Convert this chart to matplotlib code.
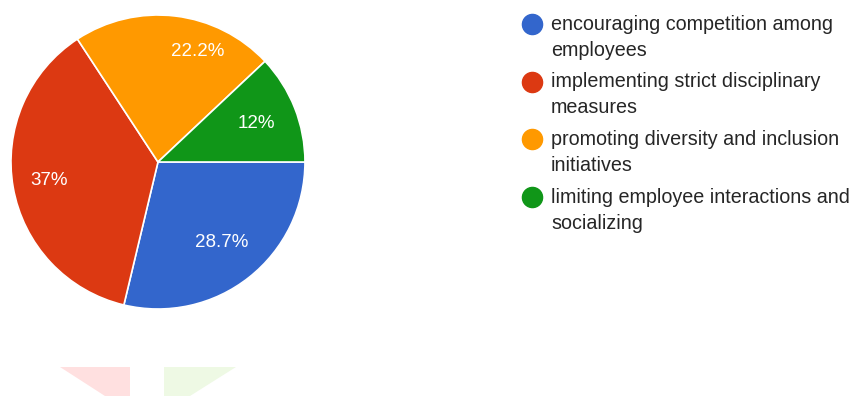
import numpy as np
import matplotlib
matplotlib.use("Agg")
import matplotlib.pyplot as plt
from matplotlib.patches import Polygon

labels = ["encouraging competition among\nemployees",
          "implementing strict disciplinary\nmeasures",
          "promoting diversity and inclusion\ninitiatives",
          "limiting employee interactions and\nsocializing"]
shares = [28.7, 37.0, 22.2, 12.0]
pct_text = ["28.7%", "37%", "22.2%", "12%"]
colors = ["#3366CC", "#DC3912", "#FF9900", "#109618"]

plt.rcParams['font.family'] = ['Liberation Sans', 'DejaVu Sans']

W, H = 850, 396
fig = plt.figure(figsize=(W / 100, H / 100), dpi=100)
ax = fig.add_axes([0.0129, 0.2197, 0.3459, 0.7424])
wedges, _ = ax.pie(shares, colors=colors, startangle=0, counterclock=False,
                   wedgeprops=dict(edgecolor="white", linewidth=1.2))
ax.set_aspect("equal")
ax.set_xlim(-1, 1)
ax.set_ylim(-1, 1)

# label radius / angle tweaks, roughly where the original puts them
lab_r = [0.70, 0.75, 0.80, 0.72]
lab_shift = [0, 0, -13, 0]
for w, t, r, s in zip(wedges, pct_text, lab_r, lab_shift):
    ang = np.deg2rad((w.theta1 + w.theta2) / 2 + s)
    ax.text(r * np.cos(ang), r * np.sin(ang), t, color="white",
            fontsize=13.5, ha="center", va="center")

# legend, one text per line
for i, (lab, c) in enumerate(zip(labels, colors)):
    ytop = 24 + i * 57.7
    fig.lines.append(plt.Line2D([532 / W], [1 - ytop / H], marker="o",
                                markersize=14.5, color=c,
                                transform=fig.transFigure))
    for j, line in enumerate(lab.split("\n")):
        fig.text(551 / W, 1 - (ytop + 26 * j) / H, line, fontsize=14.2,
                 color="#262626", va="center", ha="left")

# faint bits at the bottom of the screenshot
def px(pts):
    return [[x / W, 1 - y / H] for x, y in pts]

fig.patches.append(Polygon(px([(60, 367), (130, 367), (130, 396), (105, 396)]),
                           closed=True, facecolor="#FFE0E0", edgecolor="none",
                           transform=fig.transFigure, figure=fig))
fig.patches.append(Polygon(px([(164, 367), (236, 367), (190, 396), (164, 396)]),
                           closed=True, facecolor="#EEF9E4", edgecolor="none",
                           transform=fig.transFigure, figure=fig))

fig.savefig("out.png", dpi=100)
